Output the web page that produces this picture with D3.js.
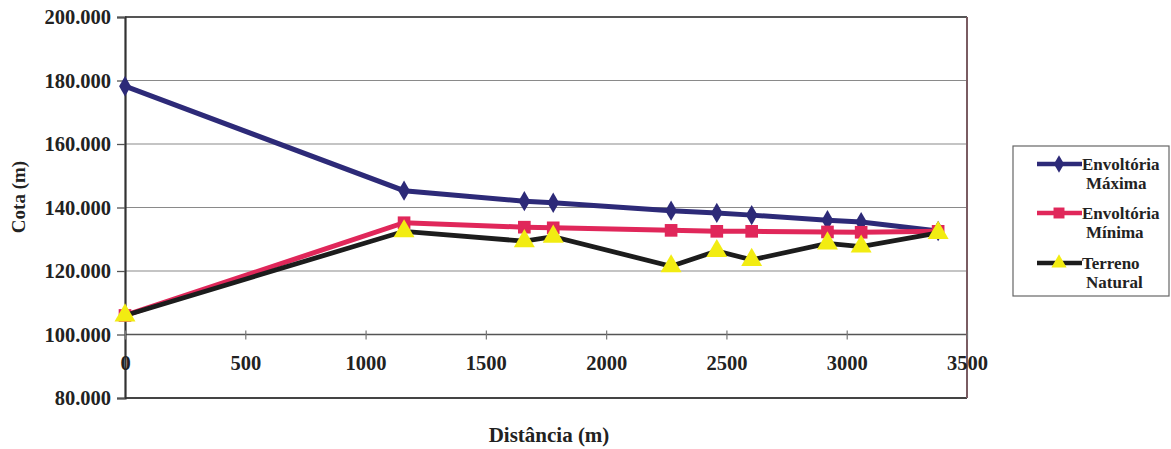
<!DOCTYPE html>
<html><head><meta charset="utf-8">
<script src="https://cdn.jsdelivr.net/npm/d3@7"></script>
<style>
html,body{margin:0;padding:0;background:#fff;}
svg{display:block;}
text{font-family:"Liberation Serif","Times New Roman",serif;font-weight:bold;fill:#222;}
</style></head>
<body>
<svg id="chart" width="1171" height="449"></svg>
<script>
const distance = [0, 1160, 1660, 1780, 2270, 2460, 2605, 2920, 3060, 3380];
const envMaxima = [178.2, 145.3, 142.0, 141.5, 139.0, 138.3, 137.6, 136.0, 135.4, 132.6];
const envMinima = [106.0, 135.2, 133.8, 133.6, 132.8, 132.5, 132.5, 132.3, 132.2, 132.5];
const terreno = [106.0, 132.5, 129.4, 130.8, 121.5, 126.3, 123.5, 128.7, 127.7, 132.0];
const yTicks = [80, 100, 120, 140, 160, 180, 200];
const xTicks = [0, 500, 1000, 1500, 2000, 2500, 3000, 3500];
const seriesNames = [["Envoltória","Máxima"],["Envoltória","Mínima"],["Terreno","Natural"]];

const svg = d3.select("#chart");
const L = 125, R = 967, T = 17, B = 398;
const x = d3.scaleLinear().domain([0, 3500]).range([L, R]);
const y = d3.scaleLinear().domain([80, 200]).range([B, T]);
const FF = '"Liberation Serif","Times New Roman",serif';

// gridlines
svg.append("g").selectAll("line").data(yTicks.filter(v => v > 80 && v < 200)).join("line")
  .attr("x1", L).attr("x2", R).attr("y1", d => y(d)).attr("y2", d => y(d))
  .attr("stroke", d => d === 100 ? "#555" : "#8a8a8a").attr("stroke-width", d => d === 100 ? 1.6 : 1.2);

// border
svg.append("line").attr("x1", L).attr("x2", R).attr("y1", T).attr("y2", T).attr("stroke", "#555").attr("stroke-width", 2);
svg.append("line").attr("x1", L).attr("x2", R).attr("y1", B).attr("y2", B).attr("stroke", "#444").attr("stroke-width", 2);
svg.append("line").attr("x1", R).attr("x2", R).attr("y1", T).attr("y2", B).attr("stroke", "#7a5c62").attr("stroke-width", 2);

// y axis
const yAxis = d3.axisLeft(y).tickValues(yTicks).tickFormat(d3.format(".3f")).tickSize(8).tickPadding(6);
const gy = svg.append("g").attr("transform", `translate(${L},0)`).call(yAxis);
gy.select(".domain").attr("stroke", "#333").attr("stroke-width", 2.2);
gy.selectAll(".tick line").attr("stroke", "#555").attr("stroke-width", 1.3);
gy.selectAll(".tick text").attr("font-size", 20.5).attr("fill", "#2a2a2a")
  .style("font-family", FF).style("font-weight", "bold");

// x axis crossing at 100
const xAxis = d3.axisBottom(x).tickValues(xTicks).tickSize(0).tickPadding(0).tickFormat(d3.format("d"));
const gx = svg.append("g").attr("transform", `translate(0,${y(100)})`).call(xAxis);
gx.select(".domain").remove();
gx.selectAll(".tick line").remove();
gx.selectAll(".tick").append("line").attr("y1", -4).attr("y2", 5).attr("stroke", "#777").attr("stroke-width", 1.2);
gx.selectAll(".tick text").attr("dy", null).attr("y", 31).attr("dominant-baseline", "middle")
  .attr("font-size", 20.5).attr("fill", "#2a2a2a")
  .style("font-family", FF).style("font-weight", "bold");

// axis titles
svg.append("text").attr("x", 549).attr("y", 442).attr("text-anchor", "middle").attr("font-size", 21).text("Distância (m)");
svg.append("text").attr("transform", `translate(25,197) rotate(-90)`).attr("text-anchor", "middle").attr("font-size", 19).text("Cota (m)");

const line = d3.line().x(d => x(d[0])).y(d => y(d[1]));
const mk = vals => distance.map((d, i) => [d, vals[i]]);

const colMax = "#2d2a78", colMin = "#e0275a", colTer = "#1c1c1c", colTri = "#f2ec12";

// Envoltória Máxima
svg.append("path").datum(mk(envMaxima)).attr("d", line).attr("fill", "none").attr("stroke", colMax).attr("stroke-width", 5);
svg.append("g").selectAll("path").data(mk(envMaxima)).join("path")
  .attr("d", d3.symbol(d3.symbolDiamond, 120)).attr("transform", d => `translate(${x(d[0])},${y(d[1])})`).attr("fill", colMax);

// Envoltória Mínima
svg.append("path").datum(mk(envMinima)).attr("d", line).attr("fill", "none").attr("stroke", colMin).attr("stroke-width", 5);
svg.append("g").selectAll("path").data(mk(envMinima)).join("path")
  .attr("d", d3.symbol(d3.symbolSquare, 160)).attr("transform", d => `translate(${x(d[0])},${y(d[1])})`).attr("fill", colMin);

// Terreno Natural
svg.append("path").datum(mk(terreno)).attr("d", line).attr("fill", "none").attr("stroke", colTer).attr("stroke-width", 4.8);
svg.append("g").selectAll("path").data(mk(terreno)).join("path")
  .attr("d", d3.symbol(d3.symbolTriangle, 190)).attr("transform", d => `translate(${x(d[0])},${y(d[1])})`).attr("fill", colTri);

// legend
const lg = svg.append("g");
lg.append("rect").attr("x", 1013).attr("y", 146).attr("width", 156).attr("height", 150)
  .attr("fill", "#fff").attr("stroke", "#666").attr("stroke-width", 1.2);
const lItems = [
  {c: colMax, sym: d3.symbolDiamond, size: 90, fill: colMax, y: 164},
  {c: colMin, sym: d3.symbolSquare, size: 120, fill: colMin, y: 213},
  {c: colTer, sym: d3.symbolTriangle, size: 100, fill: colTri, y: 263}
];
lItems.forEach((it, i) => {
  lg.append("line").attr("x1", 1037).attr("x2", 1082).attr("y1", it.y).attr("y2", it.y).attr("stroke", it.c).attr("stroke-width", 4.5);
  lg.append("path").attr("d", d3.symbol(it.sym, it.size)).attr("transform", `translate(1059,${it.y})`).attr("fill", it.fill);
  const t = lg.append("text").attr("x", 1082).attr("y", it.y + 6).attr("font-size", 17);
  t.append("tspan").attr("x", 1082).text(seriesNames[i][0]);
  t.append("tspan").attr("x", 1086).attr("dy", 19).text(seriesNames[i][1]);
});
</script>
</body></html>
